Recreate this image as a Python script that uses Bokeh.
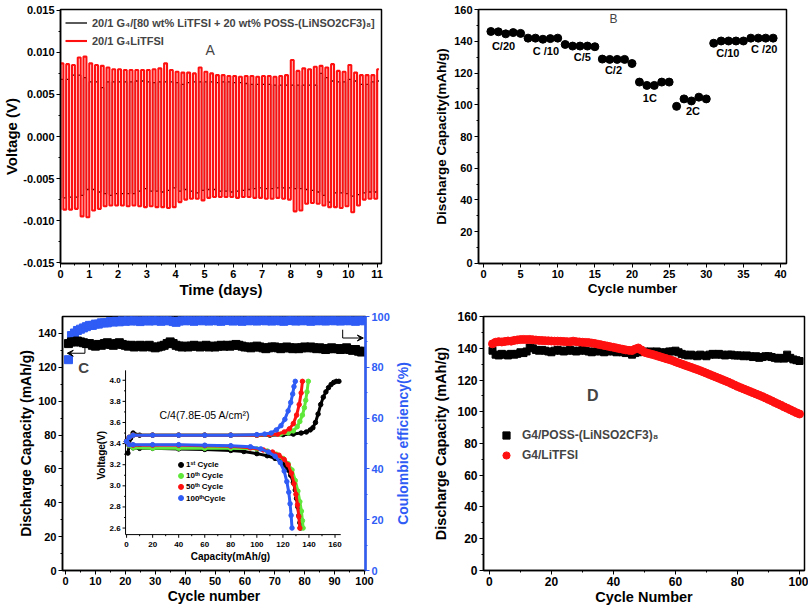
import math
from bokeh.plotting import figure
from bokeh.layouts import column, row
from bokeh.models import (Range1d, LinearAxis, Legend, LegendItem, Arrow, VeeHead,
                          FixedTicker, PrintfTickFormatter, Label)
from bokeh.core.properties import value
from bokeh.embed import file_html
from bokeh.resources import INLINE

FONT = "Liberation Sans"
RED = "#ff1010"
BLUE = "#2f5cf5"
GREEN = "#5fe83a"

# ---------------- Panel A : symmetric cycling (square-wave plateaus per cycle)
a_half_cycle_days = 0.1
a_red_top = [0.0087, 0.0086, 0.0085, 0.0094, 0.0095,
             0.0087, 0.0085, 0.0084, 0.0082, 0.0080,
             0.0080, 0.0079, 0.0079, 0.0079, 0.0079,
             0.0079, 0.0080, 0.0081, 0.0087, 0.0079,
             0.0077, 0.0076, 0.0076, 0.0075, 0.0082,
             0.0077, 0.0075, 0.0073, 0.0073, 0.0072,
             0.0072, 0.0071, 0.0072, 0.0072, 0.0071,
             0.0072, 0.0072, 0.0071, 0.0072, 0.0073,
             0.0091, 0.0078, 0.0081, 0.0080, 0.0083,
             0.0084, 0.0082, 0.0086, 0.0078, 0.0077,
             0.0085, 0.0076, 0.0073, 0.0073, 0.0073]
a_red_bot = [-0.0087, -0.0087, -0.0086, -0.0095, -0.0096,
             -0.0088, -0.0086, -0.0083, -0.0082, -0.0082,
             -0.0082, -0.0083, -0.0082, -0.0083, -0.0084,
             -0.0083, -0.0084, -0.0084, -0.0085, -0.0084,
             -0.0078, -0.0075, -0.0074, -0.0074, -0.0076,
             -0.0073, -0.0072, -0.0072, -0.0072, -0.0072,
             -0.0073, -0.0072, -0.0072, -0.0073, -0.0073,
             -0.0074, -0.0074, -0.0073, -0.0074, -0.0075,
             -0.0089, -0.0088, -0.0080, -0.0079, -0.0080,
             -0.0082, -0.0084, -0.0084, -0.0085, -0.0083,
             -0.0090, -0.0082, -0.0075, -0.0074, -0.0074]
a_red_final = 0.0080
a_blk_top = [0.0068, 0.0068, 0.0073, 0.0073, 0.0070,
             0.0065, 0.0065, 0.0058, 0.0065, 0.0065,
             0.0065, 0.0065, 0.0065, 0.0066, 0.0066,
             0.0065, 0.0064, 0.0065, 0.0065, 0.0065,
             0.0064, 0.0062, 0.0064, 0.0065, 0.0065,
             0.0065, 0.0065, 0.0064, 0.0065, 0.0065,
             0.0064, 0.0064, 0.0063, 0.0062, 0.0062,
             0.0062, 0.0062, 0.0061, 0.0061, 0.0061,
             0.0061, 0.0061, 0.0061, 0.0061, 0.0061,
             0.0075, 0.0070, 0.0066, 0.0065, 0.0065,
             0.0068, 0.0066, 0.0062, 0.0062, 0.0065]
a_blk_bot = [-0.0073, -0.0072, -0.0072, -0.0070, -0.0063,
             -0.0063, -0.0066, -0.0068, -0.0070, -0.0068,
             -0.0068, -0.0068, -0.0068, -0.0065, -0.0062,
             -0.0065, -0.0065, -0.0066, -0.0064, -0.0061,
             -0.0065, -0.0063, -0.0065, -0.0067, -0.0064,
             -0.0063, -0.0063, -0.0065, -0.0065, -0.0066,
             -0.0065, -0.0064, -0.0063, -0.0062, -0.0061,
             -0.0062, -0.0062, -0.0061, -0.0061, -0.0061,
             -0.0062, -0.0062, -0.0063, -0.0064, -0.0066,
             -0.0070, -0.0078, -0.0067, -0.0067, -0.0068,
             -0.0071, -0.0069, -0.0067, -0.0066, -0.0066]
a_blk_final = 0.0066
a_xticks = list(range(0, 12))
a_yticks = [-0.015, -0.010, -0.005, 0.0, 0.005, 0.010, 0.015]
a_legend = ["20/1 G\u2084/[80 wt% LiTFSI + 20 wt% POSS-(LiNSO2CF3)\u2088]",
            "20/1 G\u2084LiTFSI"]

# ---------------- Panel B : rate capability
b_cycle = list(range(1, 40))
b_cap = [146.2, 146.0, 144.7, 145.5, 145.0, 142.0, 142.0, 141.3, 141.7, 142.0,
         138.0, 137.0, 137.0, 137.0, 136.6, 128.8, 128.6, 128.6, 128.6, 126.0,
         114.3, 112.2, 112.2, 114.3, 114.3, 99.0, 103.7, 102.4, 104.8, 103.7,
         138.8, 140.2, 140.2, 140.2, 140.2, 142.0, 142.0, 142.0, 142.0]
b_rate_text = ["C/20", "C /10", "C/5", "C/2", "1C", "2C", "C/10", "C /20"]
b_rate_x = [2.7, 8.4, 13.3, 17.5, 22.4, 28.2, 32.9, 37.8]
b_rate_y = [137.3, 133.9, 129.8, 122.2, 104.3, 96.3, 132.8, 134.9]

# ---------------- Panel C : long cycling + coulombic efficiency
c_cap = [134, 135, 135, 135.5, 135, 134.5, 134, 134, 133, 132.5,
         133.5, 133, 134, 134.5, 133.5, 133, 134, 134.5, 133.5, 133,
         132.5, 133, 132, 132.5, 133, 132, 132.5, 133, 132, 131.5,
         132, 132.5, 133, 134, 135, 134, 133, 132.5, 132, 132.5,
         132, 132.5, 133, 132.5, 132, 132.5, 133, 132, 132.5, 132,
         132.5, 133, 132.5, 133, 132.5, 133, 133.5, 133, 132.5, 132,
         132, 131.5, 132, 132.5, 132, 131.5, 131, 131.5, 132, 132,
         131.5, 131, 131.5, 132, 131.5, 131, 131.5, 131, 131.5, 132,
         131.5, 132, 131.5, 131, 131.5, 131, 130.5, 131, 131.5, 131,
         131, 130.5, 131, 131.5, 130.5, 130, 130.5, 129.5, 129, 129.5]
c_ce = [83.0, 92.5, 93.5, 94.5, 95.0, 95.5, 96.0, 96.5, 96.5, 97.0,
        97.0, 97.5, 97.5, 97.5, 98.0, 97.8, 98.2, 97.9, 98.4, 98.1,
        98.5, 98.2, 98.6, 98.3, 98.0, 98.4, 98.6, 98.2, 98.5, 98.3,
        98.6, 98.1, 98.4, 98.7, 98.3, 98.0, 97.7, 98.2, 98.5, 98.3,
        98.6, 98.4, 98.1, 98.5, 98.7, 98.3, 98.6, 98.2, 98.4, 98.6,
        98.3, 98.1, 98.5, 98.7, 98.4, 98.2, 98.6, 98.4, 98.1, 98.5,
        98.3, 98.6, 98.4, 98.2, 98.5, 98.7, 98.3, 98.5, 98.2, 98.4,
        98.6, 98.3, 98.1, 98.5, 98.4, 98.6, 98.2, 98.5, 98.3, 98.6,
        98.4, 98.1, 98.5, 98.3, 98.6, 98.4, 98.2, 98.5, 98.7, 98.3,
        98.5, 98.2, 98.4, 98.6, 98.3, 98.5, 98.1, 98.4, 98.6, 98.3]
c_cycle = list(range(1, len(c_cap) + 1))
c_right_title = "Coulombic efficiency(%)"

# inset: charge / discharge profiles (capacity mAh/g, voltage V)
ins_names = ["1\u02e2\u1d57  Cycle", "10\u1d57\u02b0 Cycle", "50\u1d57\u02b0 Cycle", "100\u1d57\u02b0Cycle"]
ins_colors = ["black", GREEN, RED, BLUE]
ins_chg_cap = [
    [1, 3, 5, 10, 20, 40, 60, 80, 100, 110, 120, 128, 134, 138, 141, 143, 145, 147, 149, 151, 153, 155, 157, 159, 161, 163],
    [0, 2, 5, 20, 40, 60, 80, 100, 110, 118, 124, 128, 131, 133, 135, 136.5, 137.5, 138.5, 139.5],
    [0, 2, 5, 20, 40, 60, 80, 100, 110, 116, 121, 125, 128, 130.5, 132.5, 134, 135],
    [0, 2, 5, 20, 40, 60, 80, 100, 106, 111, 115, 118.5, 121.5, 124, 126, 127.5, 128.5, 129.5]]
ins_chg_v = [
    [3.31, 3.45, 3.50, 3.48, 3.48, 3.48, 3.48, 3.48, 3.48, 3.48, 3.485, 3.49, 3.50, 3.51, 3.53, 3.55, 3.60, 3.68, 3.77, 3.84, 3.89, 3.93, 3.96, 3.98, 3.99, 3.99],
    [3.42, 3.46, 3.48, 3.48, 3.48, 3.48, 3.48, 3.48, 3.485, 3.49, 3.50, 3.52, 3.56, 3.61, 3.67, 3.74, 3.81, 3.89, 3.99],
    [3.42, 3.46, 3.48, 3.48, 3.48, 3.48, 3.48, 3.48, 3.485, 3.49, 3.51, 3.54, 3.59, 3.67, 3.77, 3.88, 3.99],
    [3.42, 3.46, 3.48, 3.48, 3.48, 3.48, 3.48, 3.485, 3.49, 3.50, 3.53, 3.57, 3.63, 3.71, 3.79, 3.87, 3.94, 3.99]]
ins_dis_cap = [
    [0, 2, 5, 10, 20, 40, 60, 80, 90, 100, 108, 114, 118, 121, 124, 126, 128, 129.5, 130.5, 131.5, 132.3, 133, 133.5],
    [0, 2, 5, 20, 40, 60, 80, 100, 108, 115, 120, 124, 127, 129.5, 131.5, 133, 134.2, 135, 135.5],
    [0, 2, 5, 20, 40, 60, 80, 95, 105, 112, 117, 121, 124, 126.5, 128.5, 130, 131.2, 132.2, 133],
    [0, 2, 5, 20, 40, 60, 80, 95, 103, 109, 114, 118, 121, 123, 124.5, 125.5, 126.3, 127]]
ins_dis_v = [
    [3.42, 3.38, 3.36, 3.355, 3.355, 3.35, 3.345, 3.335, 3.325, 3.305, 3.285, 3.26, 3.235, 3.20, 3.15, 3.10, 3.03, 2.96, 2.88, 2.80, 2.72, 2.65, 2.60],
    [3.42, 3.38, 3.36, 3.355, 3.355, 3.355, 3.355, 3.35, 3.33, 3.30, 3.26, 3.21, 3.15, 3.05, 2.95, 2.85, 2.76, 2.67, 2.60],
    [3.42, 3.39, 3.385, 3.385, 3.385, 3.38, 3.375, 3.36, 3.34, 3.32, 3.29, 3.25, 3.20, 3.12, 3.02, 2.92, 2.82, 2.71, 2.60],
    [3.42, 3.39, 3.39, 3.39, 3.39, 3.385, 3.38, 3.37, 3.35, 3.32, 3.28, 3.22, 3.14, 3.04, 2.94, 2.83, 2.72, 2.60]]
ins_xticks = [0, 20, 40, 60, 80, 100, 120, 140, 160]
ins_yticks = [2.6, 2.8, 3.0, 3.2, 3.4, 3.6, 3.8, 4.0]

# ---------------- Panel D : cycling comparison
d_poss = [138.5, 136, 135.5, 136.5, 136, 135.5, 136.5, 136, 136.5, 137.5,
          137, 138, 140.5, 140, 139, 138.5, 139, 138.5, 138, 137.5,
          138.5, 139, 138.5, 138, 138.5, 139, 138.5, 138, 138.5, 139,
          138.5, 138, 137.5, 138, 138.5, 138, 137.5, 138, 138.5, 138,
          137.5, 138, 137.5, 137, 137.5, 136, 137, 137.5, 138, 138,
          137.5, 138, 137.5, 138, 137.5, 137, 137.5, 138, 138, 138.5,
          137.5, 136.5, 136, 135.5, 136, 135.5, 135, 136, 135.5, 135,
          136, 136.5, 136, 136.5, 136, 135.5, 136, 136, 135.5, 135.5,
          135.5, 135, 135.5, 135, 134.5, 135, 134, 134.5, 135, 135,
          134.5, 134, 133.5, 134, 133.5, 136, 134, 133, 132.5, 132]
d_litfsi = [142.8, 143.8, 144.2, 144.0, 144.3, 144.6, 144.5, 145.0, 145.3, 145.5,
            145.6, 145.5, 145.6, 145.4, 145.2, 145.0, 144.9, 144.8, 144.7, 144.6,
            144.5, 144.5, 144.4, 144.3, 144.2, 144.1, 144.5, 144.2, 144.0, 143.8,
            143.7, 143.6, 143.3, 143.0, 142.6, 142.2, 141.8, 141.4, 141.0, 140.6,
            140.2, 139.8, 139.4, 139.0, 138.7, 138.6, 139.5, 140.2, 139.0, 137.5,
            136.9, 136.4, 135.9, 135.3, 134.7, 134.1, 133.5, 132.9, 132.3, 131.5,
            130.8, 130.1, 129.4, 128.7, 128.0, 127.3, 126.6, 125.9, 125.1, 124.3,
            123.5, 122.7, 121.9, 121.1, 120.3, 119.5, 118.7, 117.8, 116.9, 116.0,
            115.2, 114.4, 113.6, 112.8, 112.0, 111.2, 110.4, 109.6, 108.7, 107.8,
            106.9, 105.9, 105.0, 104.1, 103.1, 102.2, 101.3, 100.3, 99.4, 98.6]
d_cycle = list(range(1, len(d_poss) + 1))
d_legend = ["G4/POSS-(LiNSO2CF3)\u2088", "G4/LiTFSI"]


# ---------------- helpers
def style_axis(ax, title_size, tick_size, title_standoff, color="black"):
    ax.axis_label_text_font = FONT
    ax.axis_label_text_font_style = "bold"
    ax.axis_label_text_font_size = title_size
    ax.axis_label_text_color = color
    ax.axis_label_standoff = title_standoff
    ax.major_label_text_font = FONT
    ax.major_label_text_font_style = "bold"
    ax.major_label_text_font_size = tick_size
    ax.major_label_text_color = color
    ax.major_label_standoff = 2
    ax.axis_line_width = 1.5
    ax.axis_line_color = color
    ax.major_tick_line_color = color
    ax.minor_tick_line_color = color
    ax.major_tick_in = 0
    ax.major_tick_out = 4
    ax.minor_tick_in = 0
    ax.minor_tick_out = 2


def base_fig(w, h, xr, yr, mbl, mbr, mbt, mbb):
    p = figure(width=w, height=h, x_range=xr, y_range=yr, output_backend="svg",
               toolbar_location=None, min_border_left=mbl, min_border_right=mbr,
               min_border_top=mbt, min_border_bottom=mbb)
    p.grid.visible = False
    p.outline_line_color = "black"
    p.outline_line_width = 1.5
    return p


def square_wave(tops, bots, final, half):
    xs, ys = [0.0], [bots[0]]
    for i, (t, b) in enumerate(zip(tops, bots)):
        t0 = 2 * i * half
        xs += [t0, t0 + half, t0 + half, t0 + 2 * half]
        ys += [t, t, b, b]
    tend = 2 * len(tops) * half
    xs += [tend, tend + 0.6 * half]
    ys += [final, final]
    return xs, ys


# ================= Panel A
pA = base_fig(412, 300, Range1d(0, 11.15), Range1d(-0.0151, 0.0151), 57, 31, 9, 37)
bx, by = square_wave(a_blk_top, a_blk_bot, a_blk_final, a_half_cycle_days)
rx, ry = square_wave(a_red_top, a_red_bot, a_red_final, a_half_cycle_days)
rA1 = pA.line(bx, by, line_color="black", line_width=1.3)
rA2 = pA.line(rx, ry, line_color=RED, line_width=2.1)
pA.xaxis.axis_label = "Time (days)"
pA.yaxis.axis_label = "Voltage (V)"
style_axis(pA.xaxis[0], "15px", "11px", 0)
style_axis(pA.yaxis[0], "15px", "11px", 0)
pA.xaxis.ticker = FixedTicker(ticks=a_xticks, minor_ticks=[t + 0.5 for t in a_xticks])
pA.yaxis.ticker = FixedTicker(ticks=a_yticks,
                              minor_ticks=[t + 0.0025 for t in a_yticks[:-1]])
pA.yaxis.formatter = PrintfTickFormatter(format="%.3f")
legA = Legend(items=[LegendItem(label=a_legend[0], renderers=[rA1]),
                     LegendItem(label=a_legend[1], renderers=[rA2])],
              location="top_left", margin=5, padding=3, spacing=1,
              label_height=17, glyph_height=17, glyph_width=22, label_standoff=5,
              label_text_font=FONT, label_text_font_style="bold",
              label_text_font_size="11px", border_line_color=None,
              background_fill_alpha=0)
pA.add_layout(legA)
pA.add_layout(Label(x=5.2, y=0.0103, text="A", text_font=FONT, text_font_size="14px",
                    text_align="center", text_baseline="middle"))

# ================= Panel B
pB = base_fig(396, 300, Range1d(-0.67, 40.8), Range1d(-0.05, 160.05), 66, 22, 9, 37)
pB.scatter(b_cycle, b_cap, marker="circle", size=8, color="black")
pB.text(x=b_rate_x, y=b_rate_y, text=b_rate_text, text_font=value(FONT),
        text_font_style="bold", text_font_size="11px", text_align="center",
        text_baseline="middle", text_color="black")
pB.add_layout(Label(x=17.5, y=154, text="B", text_font=FONT, text_font_size="12px",
                    text_align="center", text_baseline="middle"))
pB.xaxis.axis_label = "Cycle number"
pB.yaxis.axis_label = "Discharge Capacity(mAh/g)"
style_axis(pB.xaxis[0], "13.5px", "11px", 0)
style_axis(pB.yaxis[0], "13.5px", "11px", 2)
pB.xaxis.ticker = FixedTicker(ticks=list(range(0, 41, 5)),
                              minor_ticks=[x + 2.5 for x in range(0, 40, 5)])
pB.yaxis.ticker = FixedTicker(ticks=list(range(0, 161, 20)),
                              minor_ticks=list(range(10, 160, 20)))

# ================= Panel C
pC = base_fig(392, 307, Range1d(-1, 100.33), Range1d(0, 150), 62, 24, 16, 35)
pC.extra_y_ranges = {"ce": Range1d(0, 100), "iy": Range1d(2.198, 4.604)}
pC.extra_x_ranges = {"ix": Range1d(-49.2, 183.4)}
pC.scatter(c_cycle, c_ce, marker="square", size=8, color=BLUE, y_range_name="ce")
pC.scatter(c_cycle, c_cap, marker="square", size=8, color="black")
pC.xaxis.axis_label = "Cycle number"
pC.yaxis.axis_label = "Discharge Capacity (mAh/g)"
style_axis(pC.xaxis[0], "14px", "11px", 0)
style_axis(pC.yaxis[0], "14px", "11px", 1)
pC.xaxis.ticker = FixedTicker(ticks=list(range(0, 101, 10)),
                              minor_ticks=list(range(5, 100, 10)))
pC.yaxis.ticker = FixedTicker(ticks=list(range(0, 141, 20)),
                              minor_ticks=list(range(10, 150, 20)))
axCE = LinearAxis(y_range_name="ce")
style_axis(axCE, "14px", "11px", 0, color=BLUE)
axCE.axis_line_width = 2.5
axCE.ticker = FixedTicker(ticks=list(range(0, 101, 20)), minor_ticks=list(range(10, 100, 20)))
pC.add_layout(axCE, "right")

# arrows pointing to the axes
c_arrow_left = dict(xv=6.5, y0=132.5, y1=128.3, xh=0.6)
c_arrow_right = dict(xv=92.7, y0=142.2, y1=137.3, xh=99.6)
for a in (c_arrow_left, c_arrow_right):
    pC.line([a["xv"], a["xv"]], [a["y0"], a["y1"]], line_color="black", line_width=1)
    pC.add_layout(Arrow(end=VeeHead(size=6, line_color="black", fill_color="black", line_width=1),
                        x_start=a["xv"], y_start=a["y1"], x_end=a["xh"], y_end=a["y1"],
                        line_color="black", line_width=1))
pC.add_layout(Label(x=6.1, y=119.7, text="C", text_font=FONT, text_font_style="bold",
                    text_font_size="15px", text_align="center", text_baseline="middle"))

# ---- inset drawn with its own (extra) ranges
IX, IY = "ix", "iy"
ins_x0, ins_x1 = -0.8, 164.4
ins_y0, ins_y1 = 2.538, 4.094
tick_v, tick_c = 0.03, 2.3
pC.segment(x0=[ins_x0, ins_x0], y0=[ins_y0, ins_y0], x1=[ins_x1, ins_x0], y1=[ins_y0, ins_y1],
           line_color="black", line_width=1, x_range_name=IX, y_range_name=IY)
pC.segment(x0=ins_xticks, y0=[ins_y0] * len(ins_xticks), x1=ins_xticks,
           y1=[ins_y0 - tick_v] * len(ins_xticks), line_color="black", line_width=1,
           x_range_name=IX, y_range_name=IY)
ins_xminor = [t + 10 for t in ins_xticks[:-1]]
pC.segment(x0=ins_xminor, y0=[ins_y0] * len(ins_xminor), x1=ins_xminor,
           y1=[ins_y0 - tick_v / 2] * len(ins_xminor), line_color="black", line_width=1,
           x_range_name=IX, y_range_name=IY)
pC.segment(x0=[ins_x0] * len(ins_yticks), y0=ins_yticks, x1=[ins_x0 - tick_c] * len(ins_yticks),
           y1=ins_yticks, line_color="black", line_width=1, x_range_name=IX, y_range_name=IY)
ins_yminor = [round(t + 0.1, 2) for t in ins_yticks[:-1]]
pC.segment(x0=[ins_x0] * len(ins_yminor), y0=ins_yminor, x1=[ins_x0 - tick_c / 2] * len(ins_yminor),
           y1=ins_yminor, line_color="black", line_width=1, x_range_name=IX, y_range_name=IY)
pC.text(x=ins_xticks, y=[2.44] * len(ins_xticks), text=[str(t) for t in ins_xticks],
        text_font=value(FONT), text_font_style="bold", text_font_size="8px",
        text_align="center", text_baseline="middle", x_range_name=IX, y_range_name=IY)
pC.text(x=[-4.5] * len(ins_yticks), y=ins_yticks, text=["%.1f" % t for t in ins_yticks],
        text_font=value(FONT), text_font_style="bold", text_font_size="8px",
        text_align="right", text_baseline="middle", x_range_name=IX, y_range_name=IY)
pC.text(x=[79.7], y=[2.33], text=["Capacity(mAh/g)"], text_font=value(FONT),
        text_font_style="bold", text_font_size="10px", text_align="center",
        text_baseline="middle", x_range_name=IX, y_range_name=IY)
pC.text(x=[-19.5], y=[3.29], text=["Voltage(V)"], angle=math.pi / 2, text_font=value(FONT),
        text_font_style="bold", text_font_size="10px", text_align="center",
        text_baseline="middle", x_range_name=IX, y_range_name=IY)
pC.text(x=[25.3], y=[3.67], text=["C/4(7.8E-05 A/cm\u00b2)"], text_font=value(FONT),
        text_font_size="10.5px", text_align="left", text_baseline="middle",
        x_range_name=IX, y_range_name=IY)
for k in range(4):
    for cx, vy in ((ins_chg_cap[k], ins_chg_v[k]), (ins_dis_cap[k], ins_dis_v[k])):
        pC.line(cx, vy, line_color=ins_colors[k], line_width=3,
                x_range_name=IX, y_range_name=IY)
        pC.scatter(cx, vy, marker="circle", size=4.5, color=ins_colors[k],
                   x_range_name=IX, y_range_name=IY)
ins_leg_y = [3.198, 3.094, 2.99, 2.884]
pC.scatter([41.8] * 4, ins_leg_y, marker="circle", size=5, color=ins_colors,
           x_range_name=IX, y_range_name=IY)
pC.text(x=[45.6] * 4, y=ins_leg_y, text=ins_names, text_font=value(FONT),
        text_font_style="bold", text_font_size="8px", text_align="left",
        text_baseline="middle", x_range_name=IX, y_range_name=IY)

# ---- narrow strip carrying the right-axis title (reads bottom-to-top)
pCt = figure(width=20, height=307, x_range=Range1d(0, 1), y_range=Range1d(0, 1),
             output_backend="svg", toolbar_location=None, min_border_left=0,
             min_border_right=0, min_border_top=16, min_border_bottom=35)
pCt.axis.visible = False
pCt.grid.visible = False
pCt.outline_line_color = None
pCt.text(x=[0.5], y=[0.5], text=[c_right_title], angle=math.pi / 2,
         text_font=value(FONT), text_font_style="bold", text_font_size="14px",
         text_color=BLUE, text_align="center", text_baseline="middle")

# ================= Panel D
pD = base_fig(396, 307, Range1d(-1.9, 101.6), Range1d(-0.05, 160.05), 71, 4, 16, 35)
rD1 = pD.scatter(d_cycle, d_poss, marker="square", size=7, color="black")
rD2 = pD.scatter(d_cycle, d_litfsi, marker="circle", size=8, color=RED)
pD.xaxis.axis_label = "Cycle Number"
pD.yaxis.axis_label = "Discharge Capacity (mAh/g)"
style_axis(pD.xaxis[0], "14.5px", "12px", 0)
style_axis(pD.yaxis[0], "14.5px", "12px", 5)
pD.xaxis.ticker = FixedTicker(ticks=list(range(0, 101, 20)), minor_ticks=list(range(10, 100, 20)))
pD.yaxis.ticker = FixedTicker(ticks=list(range(0, 161, 20)), minor_ticks=list(range(10, 160, 20)))
legD = Legend(items=[LegendItem(label=d_legend[0], renderers=[rD1]),
                     LegendItem(label=d_legend[1], renderers=[rD2])],
              location=(14, 105), margin=0, padding=0, spacing=0,
              label_height=20, glyph_height=20, glyph_width=18, label_standoff=7,
              label_text_font=FONT, label_text_font_style="bold",
              label_text_font_size="12px", border_line_color=None,
              background_fill_alpha=0)
pD.add_layout(legD)
pD.add_layout(Label(x=33.3, y=110.3, text="D", text_font=FONT, text_font_style="bold",
                    text_font_size="16px", text_align="center", text_baseline="middle"))

layout = column(row(pA, pB), row(pC, pCt, pD))
open("out.html", "w").write(file_html(layout, INLINE))
